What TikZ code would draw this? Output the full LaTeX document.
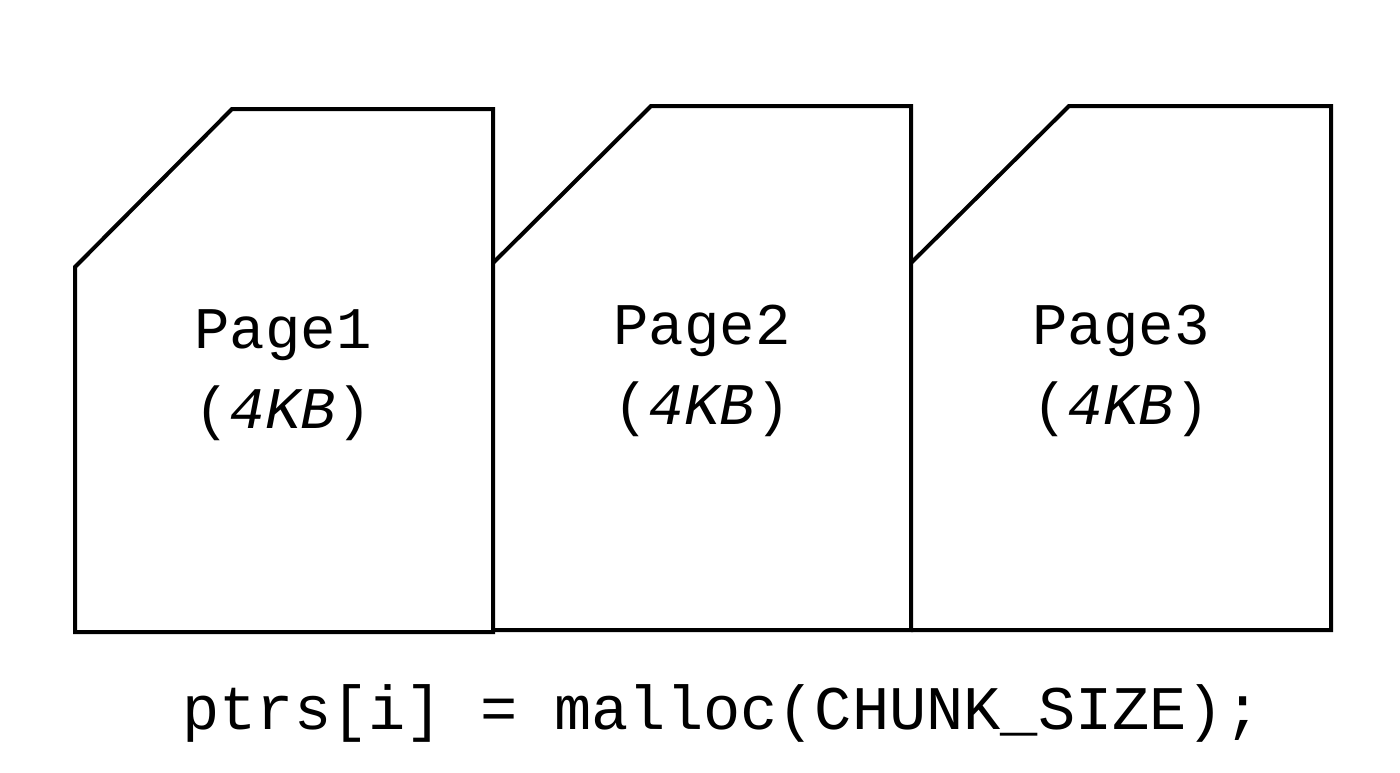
\documentclass[tikz,border=0pt]{standalone}
\usepackage{fontspec}
\setmonofont{Liberation Mono}
\begin{document}
\begin{tikzpicture}[x=1pt,y=-1pt,
  pg/.style={line width=4pt,line join=miter},
  lbl/.style={font=\fontsize{59}{80}\selectfont\ttfamily,align=center}]
\useasboundingbox[fill=white] (0,0) rectangle (1400,772);
\draw[pg] (75,267) -- (232,109) -- (493,109) -- (493,632) -- (75,632) -- cycle;
\draw[pg] (493,263) -- (651,106) -- (911,106) -- (911,630) -- (493,630);
\draw[pg] (911,263) -- (1069,106) -- (1331,106) -- (1331,630) -- (911,630);
\node[lbl] (p1) at (283,375) {Page1\\(\textit{4KB})};
\node[lbl] (p2) at (702,371) {Page2\\(\textit{4KB})};
\node[lbl] (p3) at (1121,371) {Page3\\(\textit{4KB})};
\node[font=\fontsize{62}{70}\selectfont\ttfamily] (code) at (722,713) {ptrs[i] = malloc(CHUNK\_SIZE);};
\end{tikzpicture}
\end{document}
